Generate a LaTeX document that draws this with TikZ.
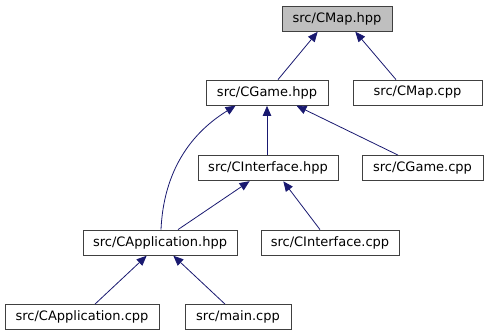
\documentclass[tikz,border=0pt]{standalone}
\usepackage{fontspec}
\setmainfont{DejaVu Sans}
\usetikzlibrary{arrows.meta}
\definecolor{edgeblue}{RGB}{25,25,112}
\definecolor{boxline}{RGB}{64,64,64}
\definecolor{focusfill}{RGB}{191,191,191}
\tikzset{
  file/.style={draw=boxline, line width=0.8pt, fill=white, minimum height=25pt,
    inner xsep=0pt, font=\fontsize{13}{15}\selectfont, anchor=center},
  focus/.style={file, fill=focusfill},
  incl/.style={draw=edgeblue, line width=0.8pt,
    -{Triangle[length=10pt,width=8.5pt]}, shorten >=0.5pt}
}
\begin{document}
\begin{tikzpicture}[x=1pt,y=-1pt]
\useasboundingbox (0,0) rectangle (488,336);
% files
\node[focus, minimum width=110pt] (cmaph) at (337,18.5) {src/CMap.hpp};
\node[file, minimum width=122pt] (cgameh) at (267,92.5) {src/CGame.hpp};
\node[file, minimum width=129pt] (cmapc) at (417.5,92.5) {src/CMap.cpp};
\node[file, minimum width=140pt] (cinth) at (268,168) {src/CInterface.hpp};
\node[file, minimum width=121pt] (cgamec) at (422.5,168) {src/CGame.cpp};
\node[file, minimum width=154pt] (capph) at (160,242.5) {src/CApplication.hpp};
\node[file, minimum width=138pt] (cintc) at (330,242.5) {src/CInterface.cpp};
\node[file, minimum width=154pt] (cappc) at (82,317) {src/CApplication.cpp};
\node[file, minimum width=106pt] (mainc) at (238,317) {src/main.cpp};
% include relations
\draw[incl] (cgameh.north -| 278,0) -- (cmaph.south -| 318,0);
\draw[incl] (cmapc.north -| 396,0) -- (cmaph.south -| 355,0);
\draw[incl] (cinth.north -| 267,0) -- (cgameh.south -| 267,0);
\draw[incl] (cgamec.north -| 398,0) -- (cgameh.south -| 296,0);
\draw[incl] (capph.north -| 161,0) .. controls (163,185) and (180,140) .. (cgameh.south -| 236,0);
\draw[incl] (capph.north -| 178,0) -- (cinth.south -| 250,0);
\draw[incl] (cintc.north -| 320,0) -- (cinth.south -| 283,0);
\draw[incl] (cappc.north -| 95,0) -- (capph.south -| 147,0);
\draw[incl] (mainc.north -| 225,0) -- (capph.south -| 173,0);
\end{tikzpicture}
\end{document}
